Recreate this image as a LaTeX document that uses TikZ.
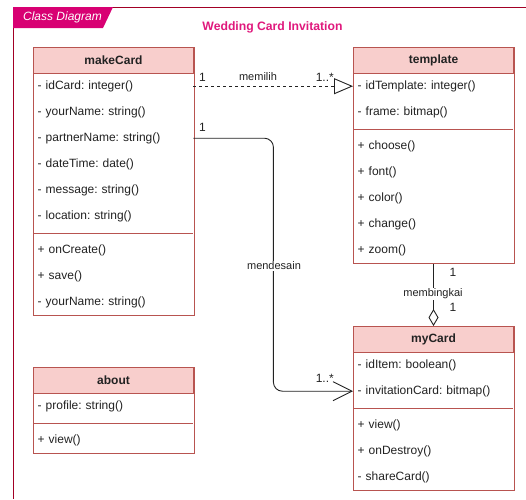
\documentclass[tikz,border=0pt]{standalone}
\usepackage{fontspec}
\setmainfont{Liberation Sans}
\usetikzlibrary{arrows.meta,fit,calc}
\frenchspacing
\definecolor{boxfill}{HTML}{F8CECC}
\definecolor{boxline}{HTML}{B85450}
\definecolor{frameline}{HTML}{A20025}
\definecolor{tabfill}{HTML}{D80073}
\definecolor{titlepink}{HTML}{E0197D}
\definecolor{ink}{HTML}{222222}
\tikzset{
  row/.style={minimum width=160pt, minimum height=26pt, text width=151pt,
    inner xsep=4.5pt, inner ysep=0pt, align=left, anchor=north west,
    font=\fontsize{12}{13}\selectfont, text=ink},
  head/.style={row, fill=boxfill, draw=boxline, line width=1pt, align=center,
    font=\fontsize{12}{13}\selectfont\bfseries},
  classbox/.style={draw=boxline, line width=1pt, inner sep=0pt},
  sepline/.style={draw=boxline, line width=1pt},
  link/.style={draw=ink, line width=0.9pt},
  lbl/.style={font=\fontsize{11}{12}\selectfont, text=ink, inner sep=1pt},
  mult/.style={font=\fontsize{12}{12}\selectfont, text=ink, inner sep=0pt},
}
\begin{document}
\begin{tikzpicture}[x=1pt, y=-1pt]
\useasboundingbox (0,0) rectangle (526,499);
\fill[white] (0,0) rectangle (526,499);

% outer frame and tab
\draw[frameline, line width=1pt] (526,7) -- (13,7) -- (13,499);
\fill[tabfill] (13,7) -- (113,7) -- (103,28) -- (13,28) -- cycle;
\node[text=white, font=\fontsize{12}{13}\selectfont\itshape, inner sep=0pt] (tabtext) at (62.5,17.5) {Class Diagram};
\node[text=titlepink, font=\fontsize{12.2}{13}\selectfont\bfseries, inner sep=0pt] (title) at (272.5,27) {Wedding Card Invitation};

% class makeCard
\node[head] (mch) at (33,47) {makeCard};
\node[row] (mc1) at (33,73)  {- idCard: integer()};
\node[row] (mc2) at (33,99)  {- yourName: string()};
\node[row] (mc3) at (33,125) {- partnerName: string()};
\node[row] (mc4) at (33,151) {- dateTime: date()};
\node[row] (mc5) at (33,177) {- message: string()};
\node[row] (mc6) at (33,203) {- location: string()};
\node[row] (mc7) at (33,237) {+ onCreate()};
\node[row] (mc8) at (33,263) {+ save()};
\node[row] (mc9) at (33,289) {- yourName: string()};
\node[classbox, fit=(mch)(mc9)] (makeCard) {};
\draw[sepline] (33,233) -- (193,233);

% class template
\node[head] (tph) at (353,47) {template};
\node[row] (tp1) at (353,73)  {- idTemplate: integer()};
\node[row] (tp2) at (353,99)  {- frame: bitmap()};
\node[row] (tp3) at (353,133) {+ choose()};
\node[row] (tp4) at (353,159) {+ font()};
\node[row] (tp5) at (353,185) {+ color()};
\node[row] (tp6) at (353,211) {+ change()};
\node[row] (tp7) at (353,237) {+ zoom()};
\node[classbox, fit=(tph)(tp7)] (template) {};
\draw[sepline] (353,129) -- (513,129);

% class myCard
\node[head] (myh) at (353,326) {myCard};
\node[row] (my1) at (353,352) {- idItem: boolean()};
\node[row] (my2) at (353,378) {- invitationCard: bitmap()};
\node[row] (my3) at (353,412) {+ view()};
\node[row] (my4) at (353,438) {+ onDestroy()};
\node[row] (my5) at (353,464) {- shareCard()};
\node[classbox, fit=(myh)(my5)] (myCard) {};
\draw[sepline] (353,408) -- (513,408);

% class about
\node[head] (abh) at (33,367) {about};
\node[row] (ab1) at (33,393) {- profile: string()};
\node[row] (ab2) at (33,427) {+ view()};
\node[classbox, fit=(abh)(ab2)] (about) {};
\draw[sepline] (33,423) -- (193,423);

% memilih
\draw[link, dash pattern=on 3pt off 3pt,
  -{Triangle[open, length=19pt, width=16pt, fill=white]}] (mc1.east) -- (tp1.west);
\node[mult, anchor=west] (m1a) at (199,77) {1};
\node[lbl] (memilih) at (258,77) {memilih};
\node[mult, anchor=east] (m1b) at (334,77) {1..*};

% mendesain
\draw[link, rounded corners=9pt, -{Straight Barb[length=19pt, width=19pt]}]
  (mc3.east) -- ++(80,0) |- (my2.west);
\node[lbl, fill=white] (mendesain) at (274,266) {mendesain};
\node[mult, anchor=west] (m2a) at (199,127) {1};
\node[mult, anchor=east] (m2b) at (334,378) {1..*};

% membingkai
\draw[link, {Diamond[open, length=17pt, width=10pt, fill=white]}-] (myh.north) -- (template.south);
\node[lbl, fill=white] (membingkai) at (433,294) {membingkai};
\node[mult] (m3a) at (453,272) {1};
\node[mult] (m3b) at (453,307) {1};
\end{tikzpicture}
\end{document}
